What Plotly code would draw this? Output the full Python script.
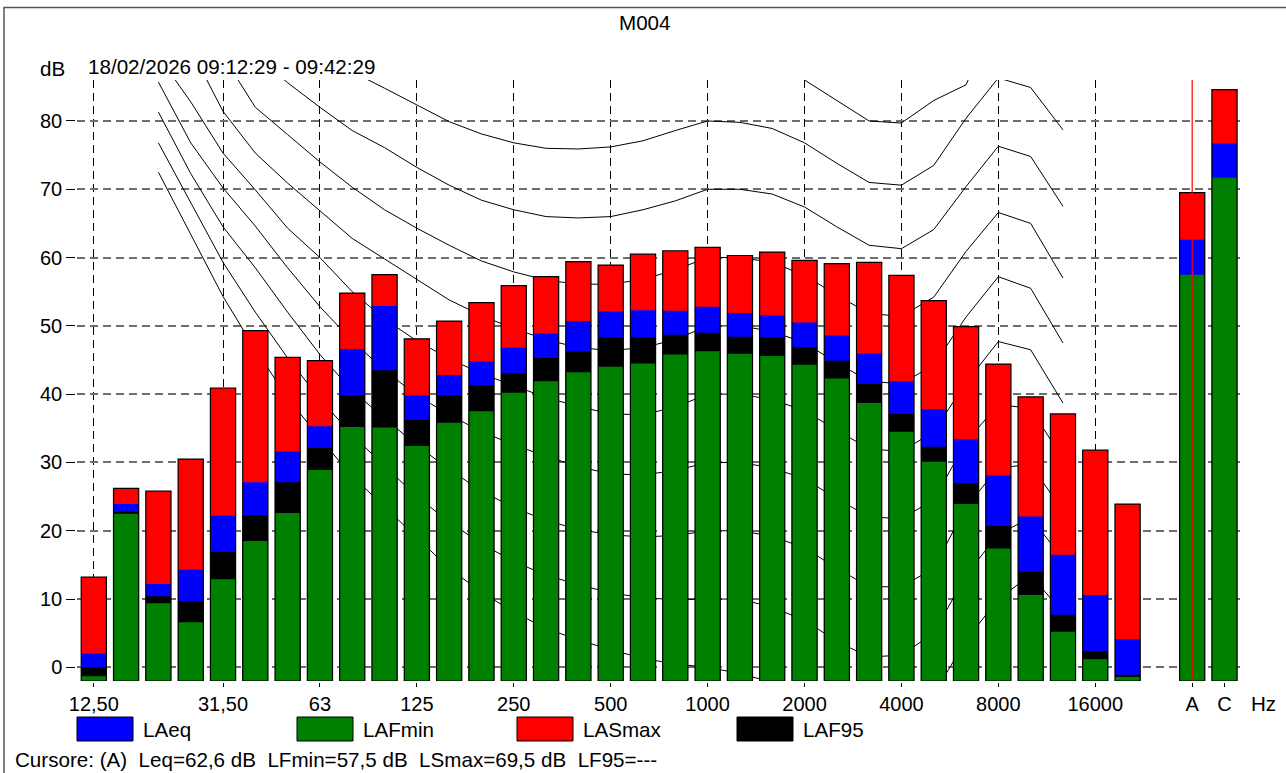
import plotly.graph_objects as go

# ---------------- data ----------------
FREQS = ["12.5", "16", "20", "25", "31.5", "40", "50", "63", "80", "100", "125", "160",
         "200", "250", "315", "400", "500", "630", "800", "1000", "1250", "1600", "2000",
         "2500", "3150", "4000", "5000", "6300", "8000", "10000", "12500", "16000", "20000"]
TOTALS = ["A", "C"]

LASMAX = [13.2, 26.2, 25.8, 30.5, 40.9, 49.3, 45.4, 44.9, 54.8, 57.5, 48.1, 50.7, 53.4,
          55.9, 57.2, 59.4, 58.9, 60.5, 61.0, 61.5, 60.3, 60.8, 59.6, 59.1, 59.3, 57.4,
          53.7, 49.9, 44.4, 39.6, 37.1, 31.8, 23.9, 69.5, 84.6]
LAEQ = [2.0, 23.9, 12.2, 14.3, 22.2, 27.1, 31.6, 35.3, 46.6, 52.9, 39.8, 42.8, 44.8,
        46.8, 48.9, 50.7, 52.1, 52.3, 52.2, 52.8, 51.9, 51.5, 50.5, 48.6, 45.9, 41.9,
        37.8, 33.4, 28.1, 22.1, 16.5, 10.6, 4.1, 62.6, 76.7]
LAF95 = [0.0, 22.8, 10.4, 9.7, 16.9, 22.3, 27.1, 32.1, 39.8, 43.5, 36.2, 39.8, 41.3,
         43.1, 45.3, 46.2, 48.3, 48.3, 48.7, 49.0, 48.4, 48.3, 46.9, 44.9, 41.5, 37.1,
         32.3, 27.0, 20.7, 14.0, 7.7, 2.4, -1.1, None, None]
LAFMIN = [-1.3, 22.5, 9.4, 6.6, 12.9, 18.5, 22.6, 28.9, 35.2, 35.1, 32.4, 35.8, 37.5,
          40.2, 41.9, 43.2, 44.0, 44.5, 45.8, 46.3, 45.9, 45.6, 44.3, 42.3, 38.7, 34.5,
          30.1, 23.9, 17.4, 10.6, 5.2, 1.2, -1.4, 57.5, 71.7]

# equal-loudness contours, 20 Hz .. 12.5 kHz
CONTOUR_FREQS = ["20", "25", "31.5", "40", "50", "63", "80", "100", "125", "160", "200",
                 "250", "315", "400", "500", "630", "800", "1000", "1250", "1600", "2000",
                 "2500", "3150", "4000", "5000", "6300", "8000", "10000", "12500"]
PHON_0 = [72.5, 63.3, 54.3, 46.5, 39.5, 33.5, 28.0, 23.5, 19.0, 14.5, 11.0, 8.1, 5.7, 4.0,
          2.6, 1.3, 0.5, 0.0, -0.9, -2.2, -3.7, -6.6, -8.4, -7.8, -4.0, 4.0, 10.0, 13.5, 8.0]
PHON_10 = [76.8, 68.0, 59.3, 52.0, 45.3, 39.3, 34.0, 29.5, 25.0, 21.3, 18.1, 15.5, 13.5,
           12.1, 10.9, 10.2, 9.9, 10.0, 10.0, 8.8, 6.9, 3.8, 1.5, 1.8, 5.0, 13.5, 19.5,
           21.9, 15.9]
PHON_20 = [81.3, 72.3, 64.5, 58.5, 52.0, 45.8, 40.5, 36.5, 32.5, 29.0, 25.8, 23.4, 21.5,
           20.2, 19.4, 19.1, 19.3, 20.0, 20.0, 19.2, 17.5, 14.5, 11.8, 11.8, 14.5, 23.5,
           29.2, 29.7, 22.9]
PHON_30 = [85.7, 76.8, 70.2, 64.6, 58.5, 52.8, 47.8, 43.5, 39.8, 37.0, 34.5, 32.6, 30.9,
           29.4, 28.3, 28.2, 28.8, 30.0, 30.0, 29.2, 27.6, 24.7, 22.0, 21.8, 24.5, 33.0,
           38.5, 37.9, 30.5]
PHON_40 = [89.5, 82.8, 75.3, 69.9, 64.3, 60.0, 55.0, 51.0, 47.8, 45.2, 43.0, 41.2, 39.5,
           38.2, 37.1, 37.0, 38.1, 40.0, 40.0, 39.2, 37.6, 34.7, 32.0, 31.6, 34.5, 41.7,
           47.7, 46.5, 38.7]
PHON_50 = [97.0, 90.6, 81.4, 75.3, 70.9, 66.9, 62.8, 59.8, 56.8, 53.8, 51.5, 49.6, 48.0,
           46.8, 46.4, 46.8, 48.0, 50.0, 50.0, 49.2, 47.5, 44.6, 41.9, 41.5, 44.3, 51.3,
           57.2, 55.5, 47.5]
PHON_60 = [102.0, 96.0, 89.5, 82.0, 78.0, 74.0, 70.3, 67.0, 64.3, 61.8, 59.5, 57.9, 56.7,
           56.1, 56.1, 56.8, 58.2, 60.0, 60.0, 59.3, 57.4, 54.5, 51.8, 51.4, 54.2, 60.9,
           66.6, 65.0, 57.0]
PHON_70 = [110.0, 103.0, 96.0, 89.5, 85.6, 82.0, 78.6, 76.1, 73.2, 70.6, 68.4, 67.0, 66.0,
           65.8, 66.0, 67.0, 68.3, 70.0, 70.0, 69.3, 67.4, 64.5, 61.8, 61.3, 64.1, 70.4,
           76.3, 74.8, 67.5]
PHON_80 = [117.0, 110.0, 103.0, 97.0, 93.0, 90.0, 87.2, 84.8, 82.4, 79.9, 78.1, 76.8, 76.0,
           75.9, 76.2, 77.1, 78.6, 80.0, 79.8, 78.9, 76.8, 73.8, 71.0, 70.6, 73.5, 80.4,
           86.3, 84.9, 78.7]
PHON_90 = [124.0, 117.0, 110.0, 104.0, 100.0, 97.0, 95.0, 93.5, 92.0, 90.5, 89.0, 88.0,
           87.3, 87.0, 87.2, 87.8, 88.8, 90.0, 89.8, 89.0, 86.0, 82.9, 80.0, 79.7, 83.0,
           85.3, 96.0, 94.0, 89.0]
CONTOURS = [PHON_0, PHON_10, PHON_20, PHON_30, PHON_40, PHON_50, PHON_60, PHON_70,
            PHON_80, PHON_90]

TICK_CATS = ["12.5", "31.5", "63", "125", "250", "500", "1000", "2000", "4000", "8000",
             "16000", "A", "C"]
TICK_TEXT = ["12,50", "31,50", "63", "125", "250", "500", "1000", "2000", "4000", "8000",
             "16000", "A", "C"]
GRID_CATS = TICK_CATS[:-2]
Y_TICKS = [0, 10, 20, 30, 40, 50, 60, 70, 80]
Y_MIN, Y_MAX = -2.0, 86.0

TITLE = "M004"
PERIOD = "18/02/2026 09:12:29 - 09:42:29"
CURSOR = "A"

SERIES = [("LASmax", LASMAX, "#ff0000"), ("LAeq", LAEQ, "#0000ff"),
          ("LAF95", LAF95, "#000000"), ("LAFmin", LAFMIN, "#008000")]
LEGEND_ORDER = [("LAeq", "#0000ff"), ("LAFmin", "#008000"), ("LASmax", "#ff0000"),
                ("LAF95", "#000000")]

# ---------------- figure ----------------
CATS = FREQS + [""] + TOTALS
POS = {c: i for i, c in enumerate(CATS)}
BAR_CATS = FREQS + TOTALS
BAR_X = [POS[c] for c in BAR_CATS]

W, H = 1286, 773
ML, MR, MT, MB = 77, 46, 80, 92
PW, PH = W - ML - MR, H - MT - MB
FONT = "Liberation Sans, Arial, sans-serif"
TXT = 20.6


def px(xp):
    return (xp - ML) / PW


def py(yp):
    return (H - MB - yp) / PH


fig = go.Figure()

# contours (behind bars)
cx = [POS[f] for f in CONTOUR_FREQS]
for vals in CONTOURS:
    fig.add_trace(go.Scatter(x=cx, y=vals, mode="lines",
                             line=dict(color="black", width=1),
                             hoverinfo="skip", showlegend=False, zorder=0))

# overlapping bars, all from the bottom of the axis
for name, vals, col in SERIES:
    xs = [x for x, v in zip(BAR_X, vals) if v is not None]
    ys = [v - Y_MIN for v in vals if v is not None]
    fig.add_trace(go.Bar(x=xs, y=ys, base=Y_MIN, width=0.78, name=name,
                         marker=dict(color=col, line=dict(width=0)),
                         showlegend=False, zorder=1))

# outline of each composite bar
tops = [max(v for v in grp if v is not None) for grp in zip(LASMAX, LAEQ, LAF95, LAFMIN)]
fig.add_trace(go.Bar(x=BAR_X, y=[t - Y_MIN for t in tops], base=Y_MIN, width=0.78,
                     marker=dict(color="rgba(0,0,0,0)", line=dict(color="black", width=1.2)),
                     showlegend=False, hoverinfo="skip", zorder=2))

fig.update_layout(
    width=W, height=H, barmode="overlay",
    margin=dict(l=ML, r=MR, t=MT, b=MB, pad=0),
    paper_bgcolor="white", plot_bgcolor="white",
    font=dict(family=FONT, size=20, color="black"),
    showlegend=False,
)

fig.update_xaxes(
    range=[-0.52, len(CATS) - 1 + 0.48],
    tickmode="array", tickvals=[POS[c] for c in TICK_CATS], ticktext=TICK_TEXT,
    ticks="outside", ticklen=4, tickcolor="black", tickwidth=1,
    showgrid=False, zeroline=False,
    showline=True, linecolor="black", linewidth=1.5, mirror=True,
    minor=dict(tickmode="array", tickvals=[POS[c] for c in GRID_CATS], ticks="",
               showgrid=True, gridcolor="black", gridwidth=1, griddash="8px,5px"),
    tickfont=dict(size=20),
)
fig.update_yaxes(
    range=[Y_MIN, Y_MAX], tickmode="array", tickvals=Y_TICKS,
    ticks="outside", ticklen=9, tickcolor="black", tickwidth=1,
    showgrid=True, gridcolor="#6e6e6e", gridwidth=1.5, griddash="8px,5px",
    zeroline=False, showline=True, linecolor="black", linewidth=1.5, mirror=True,
    tickfont=dict(size=20),
)

# cursor line at the A total
fig.add_shape(type="line", xref="x", yref="paper", x0=POS[CURSOR], x1=POS[CURSOR],
              y0=0, y1=1, line=dict(color="#ff0000", width=1.2), layer="above")

# outer frame
fig.add_shape(type="rect", xref="paper", yref="paper", x0=px(4), x1=px(1300),
              y0=py(790), y1=py(7.5), line=dict(color="#555555", width=1.5),
              layer="below")

ann = dict(showarrow=False, xref="paper", yref="paper", font=dict(size=TXT, family=FONT))
fig.add_annotation(text=TITLE, x=px(645), y=py(22), xanchor="center", yanchor="middle", **ann)
fig.add_annotation(text="dB", x=px(38), y=py(68), xanchor="left", yanchor="middle", **ann)
fig.add_annotation(text=PERIOD, x=px(86), y=py(66), xanchor="left", yanchor="middle", **ann)
fig.add_annotation(text="Hz", x=px(1249), y=py(703), xanchor="left", yanchor="middle", **ann)

# legend (large swatches)
for k, (name, col) in enumerate(LEGEND_ORDER):
    x0 = 77 + 220 * k
    fig.add_shape(type="rect", xref="paper", yref="paper", x0=px(x0), x1=px(x0 + 56),
                  y0=py(741), y1=py(717), fillcolor=col, line=dict(color="black", width=1))
    fig.add_annotation(text=name, x=px(x0 + 64), y=py(729), xanchor="left",
                       yanchor="middle", **ann)

ia = len(FREQS)  # index of A in the bar lists


def fmt(v):
    return "---" if v is None else f"{v:.1f}".replace(".", ",") + " dB"


sp = "\u00a0\u00a0"
cursor_text = (f"Cursore: ({CURSOR}){sp}Leq={fmt(LAEQ[ia])}{sp}LFmin={fmt(LAFMIN[ia])}"
               f"{sp}LSmax={fmt(LASMAX[ia])}{sp}LF95={fmt(LAF95[ia])}")
fig.add_annotation(text=cursor_text, x=px(13), y=py(760), xanchor="left",
                   yanchor="middle", **ann)

fig.write_html("out.html")
